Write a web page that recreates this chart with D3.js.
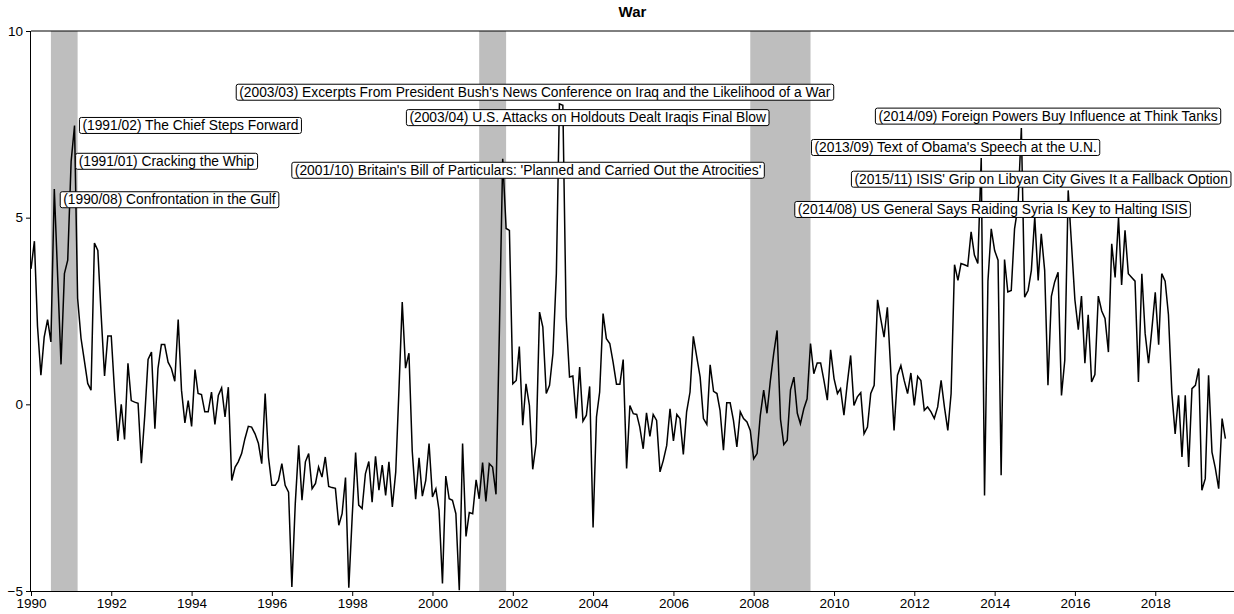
<!DOCTYPE html>
<html><head><meta charset="utf-8">
<script src="https://cdn.jsdelivr.net/npm/d3@7"></script>
<style>
html,body{margin:0;padding:0;background:#fff;}
svg{display:block;}
</style></head>
<body>
<svg id="chart" width="1234" height="614"></svg>
<script>
// ---------- DATA ----------
const title = "War";
const startYear = 1990;           // monthly series starting January 1990
const values = [
  // 1990
  3.63, 4.37, 2.1, 0.78, 1.8, 2.27, 1.67, 5.77, 3.4, 1.07, 3.5, 3.86,
  // 1991
  6.5, 7.47, 2.84, 1.77, 1.18, 0.56, 0.38, 4.32, 4.12, 2.4, 0.76, 1.83,
  // 1992
  1.83, 0.3, -0.98, 0.0, -0.94, 1.1, 0.1, 0.06, 0.03, -1.58, -0.3, 1.2,
  // 1993
  1.4, -0.65, 0.96, 1.6, 1.6, 1.13, 0.96, 0.62, 2.27, 0.38, -0.5, 0.1,
  // 1994
  -0.59, 0.93, 0.29, 0.26, -0.2, -0.2, 0.33, -0.54, 0.24, 0.44, -0.34, 0.46,
  // 1995
  -2.04, -1.68, -1.54, -1.32, -0.92, -0.59, -0.61, -0.79, -1.05, -1.59, 0.29, -1.41,
  // 1996
  -2.17, -2.17, -2.04, -1.59, -2.17, -2.35, -4.89, -2.66, -1.1, -2.57, -1.54, -1.32,
  // 1997
  -2.26, -2.12, -1.68, -1.95, -1.41, -2.2, -2.23, -2.25, -3.24, -2.93, -1.96, -4.91,
  // 1998
  -3.0, -1.29, -2.7, -2.79, -1.86, -1.53, -2.62, -1.39, -2.3, -1.63, -2.44, -1.54,
  // 1999
  -2.75, -1.81, 0.3, 2.74, 0.97, 1.37, -1.25, -2.54, -1.43, -2.46, -2.04, -1.05,
  // 2000
  -2.48, -2.26, -2.84, -4.8, -1.92, -2.53, -2.57, -2.93, -4.98, -1.05, -3.54, -2.9,
  // 2001
  -2.93, -2.02, -2.53, -1.56, -2.6, -1.59, -1.68, -2.41, 2.0, 6.58, 4.71, 4.66,
  // 2002
  0.55, 0.64, 1.55, -0.56, 0.55, -0.03, -1.74, -1.05, 2.47, 2.07, 0.29, 0.51,
  // 2003
  1.36, 3.5, 8.05, 8.01, 2.34, 0.73, 0.76, -0.38, 1.0, -0.45, -0.29, 0.48,
  // 2004
  -3.3, -0.34, 0.33, 2.43, 1.76, 1.63, 1.13, 0.54, 0.54, 1.2, -1.72, -0.03,
  // 2005
  -0.25, -0.27, -0.61, -1.19, -0.23, -0.86, -0.27, -0.43, -1.81, -1.5, -1.1, -0.12,
  // 2006
  -0.98, -0.27, -0.38, -1.34, -0.2, 0.33, 1.82, 1.27, 0.73, -0.38, -0.54, 1.06,
  // 2007
  0.35, 0.29, -0.16, -1.23, 0.04, 0.04, -0.43, -1.14, -0.2, -0.38, -0.47, -0.7,
  // 2008
  -1.46, -1.32, -0.3, 0.38, -0.24, 0.64, 1.36, 1.98, -0.4, -1.08, -0.96, 0.39,
  // 2009
  0.73, -0.24, -0.52, -0.12, 0.15, 1.63, 0.82, 1.11, 1.11, 0.64, 0.11, 1.46,
  // 2010
  0.69, 0.29, 0.42, -0.29, 0.55, 1.31, -0.03, 0.2, 0.31, -0.79, -0.61, 0.29,
  // 2011
  0.51, 2.8, 2.3, 1.8, 2.6, 0.9, -0.7, 0.78, 1.04, 0.64, 0.29, 0.84,
  // 2012
  -0.03, 0.75, 0.64, -0.16, -0.07, -0.2, -0.38, -0.07, 0.64, -0.07, -0.7, 0.29,
  // 2013
  3.74, 3.32, 3.77, 3.74, 3.7, 4.62, 4.0, 3.77, 6.6, -2.44, 3.3, 4.7,
  // 2014
  4.12, 3.86, -1.9, 3.88, 3.01, 3.05, 4.7, 5.3, 7.4, 2.87, 3.05, 3.59,
  // 2015
  5.02, 3.32, 4.57, 3.59, 0.51, 2.89, 3.28, 3.54, 0.24, 1.18, 5.73, 4.3,
  // 2016
  2.8, 2.0, 2.9, 1.1, 2.4, 0.6, 0.8, 2.9, 2.5, 2.3, 1.4, 4.3,
  // 2017
  3.4, 5.0, 3.2, 4.66, 3.5, 3.4, 3.3, 0.6, 3.5, 1.9, 1.1, 2.0,
  // 2018
  3.0, 1.6, 3.5, 3.3, 2.4, 0.3, -0.79, 0.24, -1.41, 0.24, -1.68, 0.42,
  // 2019
  0.51, 0.96, -2.3, -1.99, 0.78, -1.28, -1.7, -2.26, -0.38, -0.92
];

// recession periods (start month, end month)
const recessionStarts = ["1990-07", "2001-03", "2007-12"];
const recessionEnds   = ["1991-03", "2001-11", "2009-06"];

// y axis ticks / x axis ticks
const yTicks = [-5, 0, 5, 10];
const xTickYears = [1990, 1992, 1994, 1996, 1998, 2000, 2002, 2004, 2006, 2008, 2010, 2012, 2014, 2016, 2018];

// annotated headlines: month of the point, text, label centre (decimal year, value)
const annotMonths = ["1990-08", "1991-01", "1991-02", "2003-03", "2003-04", "2001-10",
                     "2014-09", "2013-09", "2015-11", "2014-08"];
const annotTexts = [
  "(1990/08) Confrontation in the Gulf",
  "(1991/01) Cracking the Whip",
  "(1991/02) The Chief Steps Forward",
  "(2003/03) Excerpts From President Bush's News Conference on Iraq and the Likelihood of a War",
  "(2003/04) U.S. Attacks on Holdouts Dealt Iraqis Final Blow",
  "(2001/10) Britain's Bill of Particulars: 'Planned and Carried Out the Atrocities'",
  "(2014/09) Foreign Powers Buy Influence at Think Tanks",
  "(2013/09) Text of Obama's Speech at the U.N.",
  "(2015/11) ISIS' Grip on Libyan City Gives It a Fallback Option",
  "(2014/08) US General Says Raiding Syria Is Key to Halting ISIS"
];
const annotLabelYear  = [1993.448, 1993.373, 1993.971, 2002.547, 2003.866, 2002.380, 2015.330, 2013.027, 2015.160, 2013.948];
const annotLabelValue = [5.48, 6.51, 7.47, 8.36, 7.68, 6.27, 7.72, 6.88, 6.03, 5.22];

// ---------- CHART ----------
const W = 1234, H = 614;
const margin = {left: 31, top: 31, bottom: 23};
const svg = d3.select("#chart");
const font = "'Liberation Sans', Arial, Helvetica, sans-serif";

const parseMonth = d3.timeParse("%Y-%m");
const dates = values.map((v, i) => new Date(startYear, i, 1));
const series = values.map((v, i) => ({date: dates[i], value: v}));

const x = d3.scaleTime()
  .domain([new Date(1990, 0, 1), new Date(2020, 0, 1)])
  .range([margin.left, margin.left + 30 * 40.15]);
const y = d3.scaleLinear().domain([-5, 10]).range([H - margin.bottom, margin.top]);

const decYear = yr => {
  const y0 = Math.floor(yr);
  const a = new Date(y0, 0, 1).getTime(), b = new Date(y0 + 1, 0, 1).getTime();
  return new Date(a + (yr - y0) * (b - a));
};

svg.append("defs").append("clipPath").attr("id", "clip")
  .append("rect").attr("x", margin.left).attr("y", y(10))
  .attr("width", W - margin.left).attr("height", y(-5) - y(10));

// recession shading
svg.append("g").selectAll("rect")
  .data(recessionStarts.map((s, i) => ({s: parseMonth(s), e: parseMonth(recessionEnds[i])})))
  .join("rect")
  .attr("x", d => x(d.s)).attr("width", d => x(d.e) - x(d.s))
  .attr("y", y(10)).attr("height", y(-5) - y(10))
  .attr("fill", "#bebebe");

// line
const line = d3.line().x(d => x(d.date)).y(d => y(d.value));
svg.append("path").datum(series)
  .attr("clip-path", "url(#clip)")
  .attr("d", line).attr("fill", "none")
  .attr("stroke", "#000").attr("stroke-width", 1.5).attr("stroke-linejoin", "miter");

// axes
const xAxis = d3.axisBottom(x)
  .tickValues(xTickYears.map(yr => new Date(yr, 0, 1)))
  .tickFormat(d3.timeFormat("%Y")).tickSize(5).tickPadding(2);
const gx = svg.append("g").attr("transform", `translate(0,${y(-5)})`).call(xAxis);
gx.select(".domain").attr("d", `M${margin.left},0.5H${W}`);
gx.selectAll("text").attr("font-family", font).attr("font-size", 13.5).attr("fill", "#000");
gx.selectAll("line").attr("stroke", "#000");

const yAxis = d3.axisLeft(y).tickValues(yTicks).tickSize(5).tickPadding(3);
const gy = svg.append("g").attr("transform", `translate(${margin.left},0)`).call(yAxis);
gy.select(".domain").attr("d", `M-0.5,${y(-5)}V${y(10)}`).attr("stroke", "#000");
gy.selectAll("text").attr("font-family", font).attr("font-size", 13.5).attr("fill", "#000");
gy.selectAll("line").attr("stroke", "#000");

// top frame line
svg.append("line").attr("x1", margin.left).attr("x2", W)
  .attr("y1", y(10)).attr("y2", y(10)).attr("stroke", "#000").attr("stroke-width", 1);

// title
svg.append("text").attr("x", (margin.left + W) / 2).attr("y", 17)
  .attr("text-anchor", "middle").attr("font-family", font)
  .attr("font-weight", "bold").attr("font-size", 15).text(title);

// labels
const labels = svg.append("g");
annotTexts.forEach((t, i) => {
  const cx = x(decYear(annotLabelYear[i])), cy = y(annotLabelValue[i]);
  const g = labels.append("g");
  const rect = g.append("rect");
  const txt = g.append("text").attr("x", cx).attr("y", cy)
    .attr("text-anchor", "middle").attr("dominant-baseline", "central")
    .attr("font-family", font).attr("font-size", 13.8).attr("fill", "#000").text(t);
  const bb = txt.node().getBBox();
  rect.attr("x", bb.x - 3).attr("y", cy - 8).attr("width", bb.width + 6).attr("height", 16)
    .attr("rx", 2).attr("fill", "#fff").attr("stroke", "#000").attr("stroke-width", 1);
});
</script>
</body></html>
